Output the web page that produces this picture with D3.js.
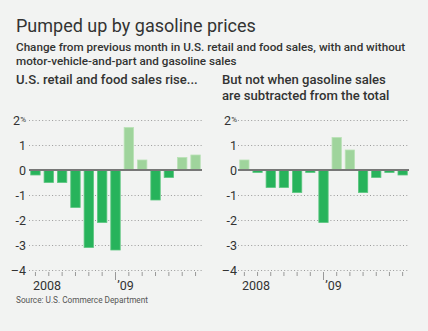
<!DOCTYPE html>
<html><head><meta charset="utf-8">
<script src="https://cdn.jsdelivr.net/npm/d3@7"></script>
<style>
html,body{margin:0;padding:0;background:#f2f3f2;}
svg{display:block;font-family:Roboto,"Noto Sans",sans-serif;}
</style></head><body>
<svg id="c" width="428" height="331"></svg>
<script>
const months = ["Jun 2008","Jul 2008","Aug 2008","Sep 2008","Oct 2008","Nov 2008","Dec 2008","Jan 2009","Feb 2009","Mar 2009","Apr 2009","May 2009","Jun 2009"];
const totalSales = [-0.2,-0.5,-0.5,-1.5,-3.1,-2.1,-3.2,1.7,0.4,-1.2,-0.3,0.5,0.6];
const exGasSales = [0.4,-0.1,-0.7,-0.7,-0.9,-0.1,-2.1,1.3,0.8,-0.9,-0.3,-0.1,-0.2];
const yTicks = [2,1,0,-1,-2,-3,-4];
const yTickLabels = ["2","1","0","-1","-2","-3","\u20134"];
const yearLabels = [{month:"Jun 2008",text:"2008"},{month:"Dec 2008",text:"\u201909"}];

const svg = d3.select("#c");
svg.append("rect").attr("width",428).attr("height",331).attr("fill","#f2f3f2");

svg.append("text").attr("x",16).attr("y",32).attr("font-size",18).attr("fill","#333")
  .text("Pumped up by gasoline prices");
svg.append("text").attr("x",16).attr("y",51).attr("font-size",11.7).attr("font-weight",500).attr("fill","#333")
  .text("Change from previous month in U.S. retail and food sales, with and without");
svg.append("text").attr("x",16).attr("y",65).attr("font-size",11.7).attr("font-weight",500).attr("fill","#333")
  .text("motor-vehicle-and-part and gasoline sales");
svg.append("text").attr("x",16).attr("y",84).attr("font-size",13.1).attr("font-weight",500).attr("fill","#333")
  .text("U.S. retail and food sales rise...");
svg.append("text").attr("x",222).attr("y",84).attr("font-size",13.1).attr("font-weight",500).attr("fill","#333")
  .text("But not when gasoline sales");
svg.append("text").attr("x",222).attr("y",100).attr("font-size",13.1).attr("font-weight",500).attr("fill","#333")
  .text("are subtracted from the total");
svg.append("text").attr("x",16).attr("y",303).attr("font-size",9.6).attr("fill","#555")
  .attr("textLength",132).attr("lengthAdjust","spacingAndGlyphs")
  .text("Source: U.S. Commerce Department");

const y = d3.scaleLinear().domain([-4,2]).range([270,120]);

function panel(values, x0, x1, labelX){
  const x = d3.scaleBand().domain(months).range([x0,x1]).paddingInner(0.295).paddingOuter(0.13);
  const g = svg.append("g");
  g.selectAll("line.grid").data(yTicks.filter(d=>d!==0)).join("line")
    .attr("x1",x0).attr("x2",x1).attr("y1",d=>y(d)+0.5).attr("y2",d=>y(d)+0.5)
    .attr("stroke","#9a9a9a").attr("stroke-width",1).attr("stroke-dasharray","1,2.3");
  g.selectAll("text.yl").data(yTicks).join("text")
    .attr("x",labelX).attr("y",d=>y(d)+4.5).attr("text-anchor","end")
    .attr("font-size",12.5).attr("fill","#333")
    .each(function(d,i){
      const t = d3.select(this);
      t.text(yTickLabels[i]);
      if(d===2){ t.append("tspan").attr("font-size",8).attr("dy",-3).text("%"); }
    });
  g.selectAll("rect.bar").data(values).join("rect")
    .attr("x",(d,i)=>x(months[i])).attr("width",x.bandwidth())
    .attr("y",d=>y(Math.max(0,d))).attr("height",d=>Math.abs(y(d)-y(0)))
    .attr("fill",d=>d>0?"#9fd49c":"#27b35b")
    .attr("stroke",d=>d>0?"#b9e2b6":"#5cc67f").attr("stroke-width",0.8);
  g.append("line").attr("x1",x0).attr("x2",x1).attr("y1",y(0)).attr("y2",y(0))
    .attr("stroke","#777").attr("stroke-width",2);
  g.selectAll("line.xt").data(months).join("line")
    .attr("x1",d=>x(d)+x.bandwidth()/2).attr("x2",d=>x(d)+x.bandwidth()/2)
    .attr("y1",272).attr("y2",d=>d==="Dec 2008"?280:276)
    .attr("stroke","#999").attr("stroke-width",1);
  yearLabels.forEach(l=>{
    const xc = l.text==="2008" ? x(l.month)+2.3 : x(l.month)+x.bandwidth()/2+1.8;
    g.append("text").attr("x",xc).attr("y",290).attr("font-size",12.5).attr("fill","#333").text(l.text);
  });
}
panel(totalSales, 29, 202, 26);
panel(exGasSales, 238, 409, 237);
</script>
</body></html>
